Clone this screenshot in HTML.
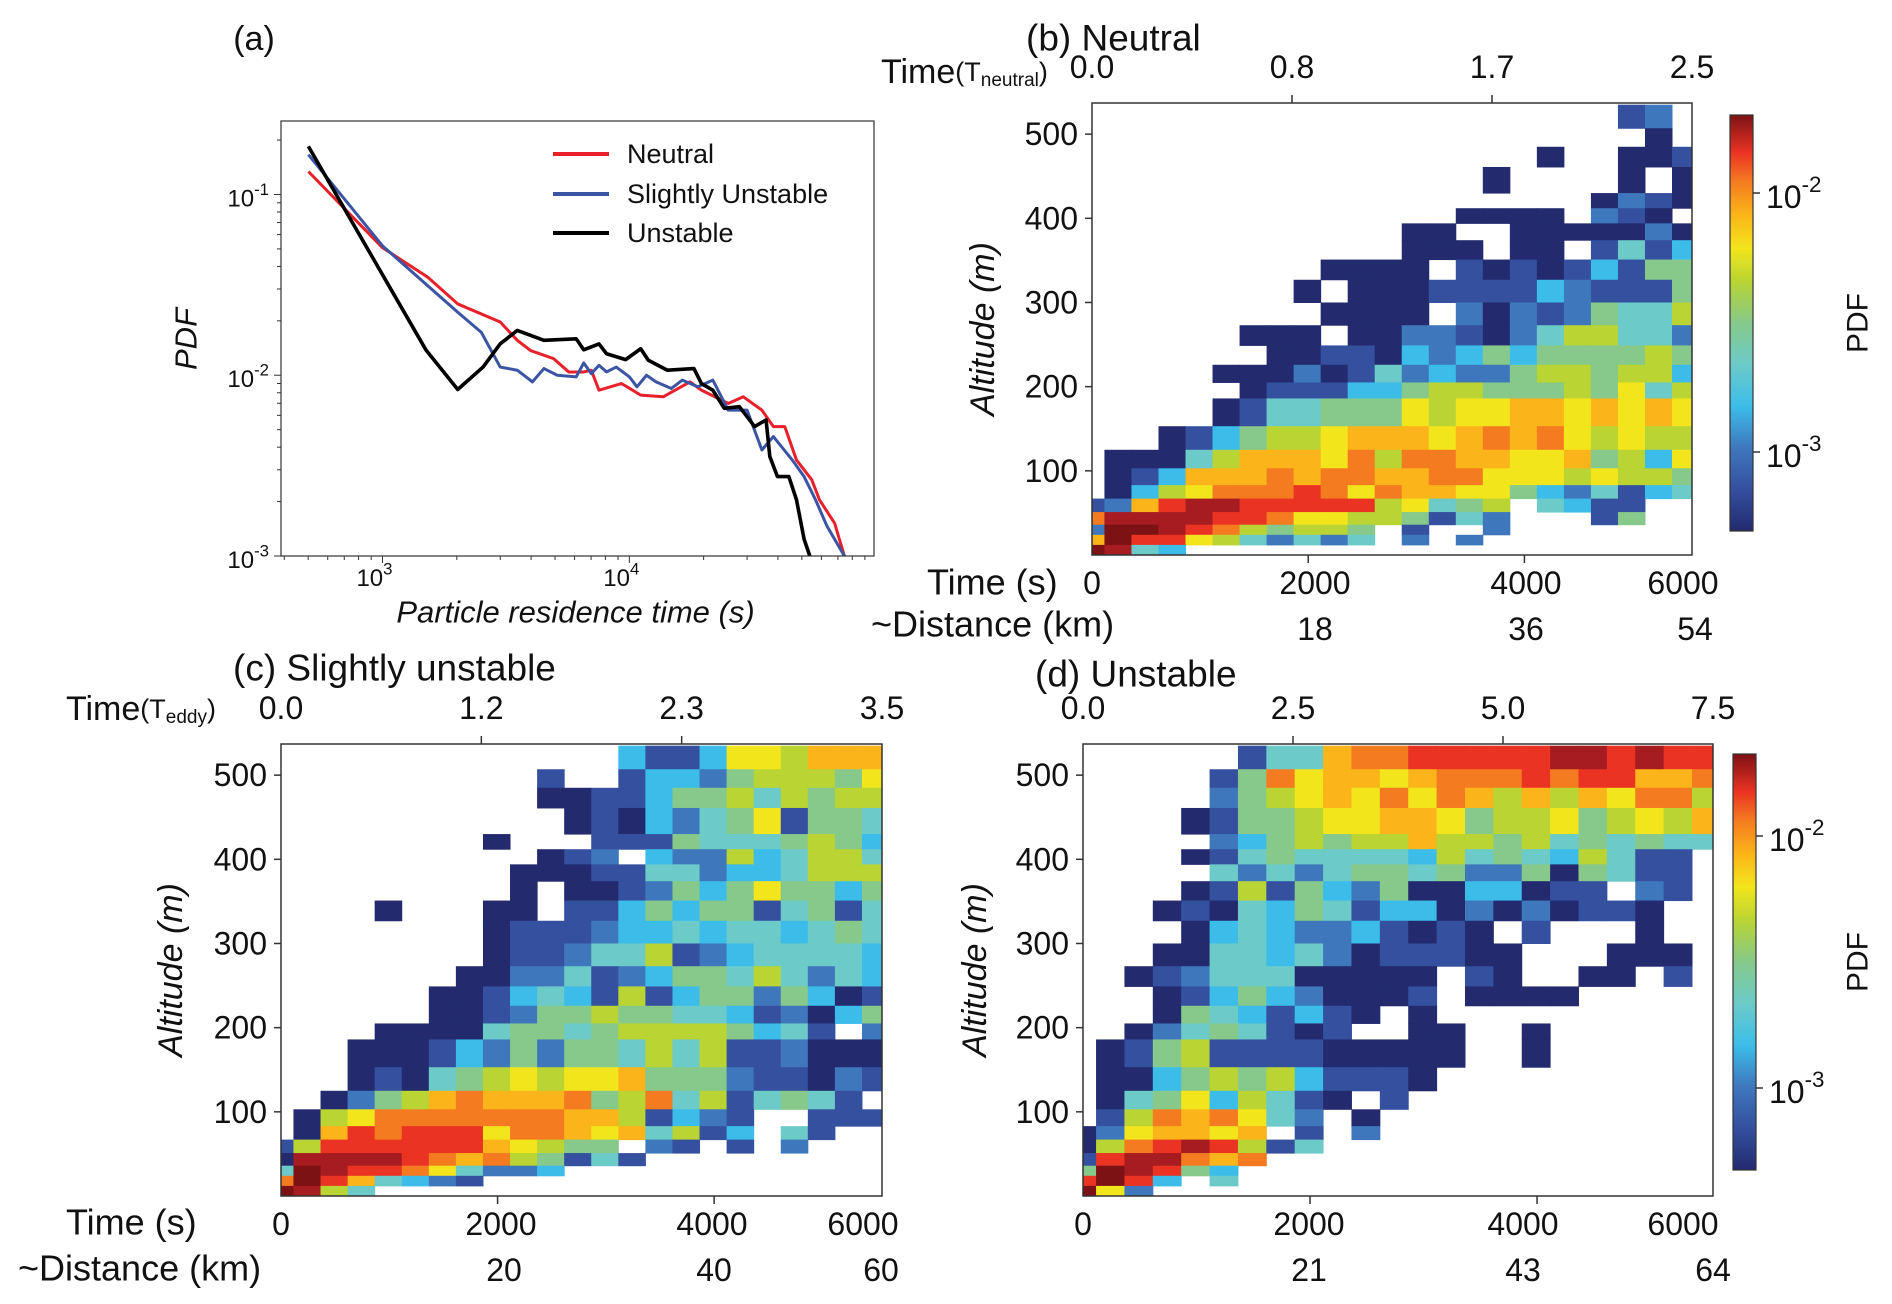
<!DOCTYPE html>
<html><head><meta charset="utf-8"><style>
html,body{margin:0;padding:0;background:#fff;}
svg{display:block;font-family:"Liberation Sans",sans-serif;}
</style></head><body>
<svg id="fig" width="1892" height="1304" viewBox="0 0 1892 1304" xmlns="http://www.w3.org/2000/svg">
<defs>
<linearGradient id="jet" x1="0" y1="1" x2="0" y2="0">
<stop offset="0" stop-color="#232a6e"/><stop offset="0.1" stop-color="#34509f"/><stop offset="0.2" stop-color="#3f77bd"/>
<stop offset="0.3" stop-color="#3cbde9"/><stop offset="0.4" stop-color="#6ccac8"/><stop offset="0.5" stop-color="#86c98a"/>
<stop offset="0.6" stop-color="#b9d433"/><stop offset="0.68" stop-color="#f2e51c"/><stop offset="0.76" stop-color="#fbb419"/>
<stop offset="0.84" stop-color="#f47b20"/><stop offset="0.91" stop-color="#ea3323"/><stop offset="1" stop-color="#7c1214"/>
</linearGradient>
</defs>
<g id="root"></g>
</svg>
<script>
// ---------- Panel (a) data ----------
const neutralX=[501,1000,1529,2018,2999,3516,3981,4932,5681,6535,7011,7535,9292,11120,13720,17620,19590,25160,28950,34440,38320,42640,47540,54850,58880,67860,74350];
const neutralY=[0.134,0.0508,0.0348,0.0248,0.0197,0.0156,0.0137,0.01236,0.01043,0.01043,0.01066,0.00827,0.009,0.00776,0.0076,0.00919,0.00827,0.00698,0.0076,0.00641,0.0052,0.0052,0.0034,0.00264,0.00205,0.00152,0.001];
const slightX=[501,1000,2018,2512,2999,3516,4050,4508,5108,6095,6535,7011,7535,8086,8850,10000,10740,11740,12830,14800,16400,18930,21790,25160,30000,34440,38320,45700,51050,56760,63250,74350];
const slightY=[0.166,0.052,0.0223,0.0173,0.0111,0.01066,0.00919,0.01089,0.01,0.0098,0.0117,0.0102,0.01135,0.01043,0.0111,0.0098,0.00863,0.01,0.00919,0.00845,0.0094,0.00863,0.0094,0.00641,0.00641,0.00386,0.00458,0.0034,0.00275,0.00205,0.00146,0.001];
const unstableX=[501,1503,2018,2558,2999,3516,4508,6095,6535,7535,8086,9661,11120,11940,14260,18270,19590,21790,24240,27930,32180,35810,37080,39810,44280,47540,51050,53850];
const unstableY=[0.1845,0.01374,0.00834,0.01112,0.01493,0.0177,0.0156,0.0159,0.01383,0.0149,0.01315,0.0122,0.01402,0.0121,0.01066,0.01089,0.009,0.00827,0.00656,0.0067,0.0052,0.00566,0.00355,0.00275,0.00275,0.00205,0.00124,0.001];
const aXTicks=[1000,10000];
const aXTickLabels=["3","4"];
const aYTicks=[0.1,0.01,0.001];
const aYTickLabels=["-1","-2","-3"];

// ---------- Heatmap data (rows top -> bottom, 23 columns, '.' = empty) ----------
const altEdges=[0,12,24,36,51,67,83,103,125,153,186,205,226,249,273,300,327,351,374,394,412,430,461,485,507,535];
const neutralGrid=[
"....................12.",
".....................0.",
".................0..001",
"...............0....0.0",
"...................0210",
"..............0000.210.",
"............00..0000020",
"............000.00.1413",
".........0000.101013155",
"........0.0001111321115",
".........0000.202125446",
"......000.0022102466442",
".......0011032353555565",
".....000201423225665663",
"......01113356655565746",
".....014455576778878787",
"...01356678887898976766",
".0004688879699887785637",
".0138889899889977767665",
".0367999A97988775324134",
"128ABBAAAAA67456.4311..",
"9BBBBAA977665142...15..",
"2CCBA965665.1..2.......",
"8CAA7642424.2.2........",
"CB43..................."];
const slightGrid=[
".............3113776888",
"..........1..1332566657",
"..........0011355646566",
"...........010324571554",
"........0...11154445653",
"..........012.322634664",
".........00011442334666",
".........0.001253575535",
"....0...00.113535514514",
"........011123343443454",
"........011244612344443",
".......0022412355464243",
"......00134316135525301",
"......00125565544312035",
"....00004554566665341.2",
"...00013252554646112000",
"...01045676778555211021",
"..02568988895694614541.",
".06799999998861321..111",
".08A9AAA7998784613.41..",
"16AAAAAA87655.21.1.2...",
"0BBBBA98965141.........",
"4CBAA974223............",
"9CA84321...............",
"CB64..................."];
const unstableGrid=[
"......144899AAAAABBABAA",
".....15978878999A9AA889",
".....256787979868687996",
"....0155677887566756768",
".....235656686656454544",
"....014544443645436411.",
".....42424554522505411.",
"....016153250033011.21.",
"...010435413302020110..",
"....03432231010.1...0..",
"...0044342011100...000.",
"..01244400000.10..00.1.",
"...0135320001.0000.....",
"...05431310.0..........",
"..02454101..00..0......",
".0156111100000..0......",
".003565631110..........",
".045736410.1...........",
".16989742.0............",
"0278878.1.2............",
"069ABA614..............",
"1ABB989................",
"5CBA53.................",
"ACA3.4.................",
"C72...................."];

const NS="http://www.w3.org/2000/svg";
const root=document.getElementById('root');
const pal={'0':'#232a6e','1':'#34509f','2':'#3f77bd','3':'#3cbde9','4':'#6ccac8','5':'#86c98a','6':'#b9d433','7':'#f2e51c','8':'#fbb419','9':'#f47b20','A':'#ea3323','B':'#a71c20','C':'#7c1214'};
function mk(tag,attrs,parent){const e=document.createElementNS(NS,tag);for(const k in attrs)e.setAttribute(k,attrs[k]);(parent||root).appendChild(e);return e;}
function txt(s,x,y,size,anchor,parent,extra){const e=mk('text',Object.assign({x:x,y:y,'font-size':size,'text-anchor':anchor||'middle','dominant-baseline':'central',fill:'#111'},extra||{}),parent);e.textContent=s;return e;}
function sup(base,exp,x,y,size,anchor,parent){const e=mk('text',{x:x,y:y,'font-size':size,'text-anchor':anchor,'dominant-baseline':'central',fill:'#111'},parent);
 const t1=document.createElementNS(NS,'tspan');t1.textContent=base;e.appendChild(t1);
 const t2=document.createElementNS(NS,'tspan');t2.setAttribute('dy',-size*0.4);t2.setAttribute('font-size',size*0.7);t2.textContent=exp;e.appendChild(t2);return e;}

// ---------- Panel (a) ----------
(function(){
 const g=mk('g',{});
 
 
 const L=281,R=874,T=121,B=556;
 const lx0=Math.log10(388),lx1=Math.log10(98000),ly0=-3,ly1=Math.log10(0.255);
 const xs=v=>L+(Math.log10(v)-lx0)/(lx1-lx0)*(R-L);
 const ys=v=>B-(Math.log10(v)-ly0)/(ly1-ly0)*(B-T);
 const clip=mk('clipPath',{id:'clipA'},g);mk('rect',{x:L,y:T,width:R-L,height:B-T},clip);
 function line(X,Y,color,name,w){const p=mk('polyline',{points:X.map((x,i)=>xs(x)+','+ys(Y[i])).join(' '),fill:'none',stroke:color,'stroke-width':w,'stroke-linejoin':'round','clip-path':'url(#clipA)'},g);
  
  }
 line(neutralX,neutralY,'#e8202a','neutral-line',3);
 line(slightX,slightY,'#3b54a4','slightly-unstable-line',3);
 line(unstableX,unstableY,'#000','unstable-line',3.6);
 mk('rect',{x:L,y:T,width:R-L,height:B-T,fill:'none',stroke:'#333','stroke-width':1.2},g);
 for(let d=2;d<=4;d++)for(let m=1;m<10;m++){const v=m*Math.pow(10,d);if(v<388||v>98000)continue;const x=xs(v);mk('line',{x1:x,y1:B,x2:x,y2:B+(m==1?7:4),stroke:'#333'},g);}
 for(let d=-3;d<=-1;d++)for(let m=1;m<10;m++){const v=m*Math.pow(10,d);if(v>0.255)continue;const y=ys(v);mk('line',{x1:L,y1:y,x2:L-(m==1?7:4),y2:y,stroke:'#333'},g);}
 aXTicks.forEach((v,i)=>{const t=sup('10',aXTickLabels[i],xs(v)-8,B+22,24,'middle',g);});
 aYTicks.forEach((v,i)=>{const t=sup('10',aYTickLabels[i],L-12,ys(v)+4,24,'end',g);});
 const xl=txt('Particle residence time (s)',(L+R)/2-2,612,31,'middle',g,{'font-style':'italic'});
 
 const yl=txt('PDF',0,0,31,'middle',g,{'font-style':'italic',transform:'translate(186,339) rotate(-90)'});
 
 const lt=txt('(a)',254,39,34,'middle',g);
 const leg=[['Neutral','#e8202a',154],['Slightly Unstable','#3b54a4',194],['Unstable','#000',233]];
 leg.forEach(l=>{const lg=mk('g',{},g);
  mk('line',{x1:553,x2:609,y1:l[2],y2:l[2],stroke:l[1],'stroke-width':4},lg);txt(l[0],627,l[2],27,'start',lg);});
})();

// ---------- Heatmap panels ----------
function heat(opt){
 const g=mk('g',{});
 
 
 const L=opt.L,R=opt.R,T=744,B=1196;
 const xmax=5550,amax=537;
 const xs=v=>L+v/xmax*(R-L);
 const ys=v=>B-v/amax*(B-T);
 const nRows=opt.grid.length;
 opt.grid.forEach((row,ri)=>{const r=nRows-1-ri;
  for(let c=0;c<row.length&&c<23;c++){const ch=row[c];if(!pal[ch])continue;
   const x0=Math.max(0,-135+250*c),x1=Math.min(xmax,-135+250*(c+1));
   const rc=mk('rect',{x:xs(x0),y:ys(altEdges[r+1]),width:xs(x1)-xs(x0)+0.5,height:ys(altEdges[r])-ys(altEdges[r+1])+0.5,fill:pal[ch]},g);
   
   }
 });
 mk('rect',{x:L,y:T,width:R-L,height:B-T,fill:'none',stroke:'#333','stroke-width':1.5},g);
 [100,200,300,400,500].forEach(a=>{const y=ys(a);mk('line',{x1:L,x2:L-7,y1:y,y2:y,stroke:'#333','stroke-width':1.5},g);
  const t=txt(String(a),L-14,y,32,'end',g);});
 [2000,4000].forEach(v=>mk('line',{x1:xs(v),x2:xs(v),y1:B,y2:B+8,stroke:'#333','stroke-width':1.5},g));
 [1/3,2/3].forEach(f=>{const x=L+f*(R-L);mk('line',{x1:x,x2:x,y1:T,y2:T-8,stroke:'#333','stroke-width':1.5},g);});
 opt.top.forEach((s,i)=>{const t=txt(s,L+i/3*(R-L),T-36,32,'middle',g);});
 opt.bot.forEach(b=>{const t=txt(b[0],b[1],B+28,32,'middle',g);});
 opt.dist.forEach(b=>{const t=txt(b[0],b[1],B+74,32,'middle',g);});
 const yl=txt('Altitude (m)',0,0,34,'middle',g,{'font-style':'italic',transform:'translate('+opt.ylx+','+(T+B)/2+') rotate(-90)'});
 
 return g;
}
let gb=heat({name:'panel-b-neutral-heatmap',grid:neutralGrid,L:1092,R:1692,top:['0.0','0.8','1.7','2.5'],
 bot:[['0',1092],['2000',1315],['4000',1526],['6000',1683]],dist:[['18',1315],['36',1526],['54',1695]],ylx:983});
gb.setAttribute('transform','translate(0,'+(103-744)+')');
heat({name:'panel-c-slightly-unstable-heatmap',grid:slightGrid,L:281,R:882,top:['0.0','1.2','2.3','3.5'],
 bot:[['0',281],['2000',501],['4000',712],['6000',863]],dist:[['20',504],['40',714],['60',881]],ylx:171});
heat({name:'panel-d-unstable-heatmap',grid:unstableGrid,L:1083,R:1713,top:['0.0','2.5','5.0','7.5'],
 bot:[['0',1083],['2000',1309],['4000',1523],['6000',1683]],dist:[['21',1309],['43',1523],['64',1713]],ylx:975});

// ---------- Titles & axis labels ----------
function label(s,x,y,size,name,anchor){const t=txt(s,x,y,size,anchor||'start');return t;}
label('(b) Neutral',1026,38,37,'panel-b-title');
label('(c) Slightly unstable',233,668,37,'panel-c-title');
label('(d) Unstable',1035,674,37,'panel-d-title');
(function(){const t=mk('text',{x:881,y:72,'font-size':34,'dominant-baseline':'central',fill:'#111'});
 t.innerHTML='Time<tspan font-size="27">(T</tspan><tspan font-size="19" dy="8">neutral</tspan><tspan font-size="27" dy="-8">)</tspan>';})();
(function(){const t=mk('text',{x:66,y:709,'font-size':34,'dominant-baseline':'central',fill:'#111'});
 t.innerHTML='Time<tspan font-size="27">(T</tspan><tspan font-size="19" dy="8">eddy</tspan><tspan font-size="27" dy="-8">)</tspan>';})();
label('Time (s)',927,582,36,'x-axis-title-b');
label('~Distance (km)',871,624,36,'distance-axis-title-b');
label('Time (s)',66,1222,36,'x-axis-title-c');
label('~Distance (km)',18,1268,36,'distance-axis-title-c');

// ---------- Colorbars ----------
function cbar(x,y0,y1,t2,t3,name){const g=mk('g',{});
 mk('rect',{x:x,y:y0,width:23,height:y1-y0,fill:'url(#jet)',stroke:'#333','stroke-width':1.2},g);
 [[t2,'-2'],[t3,'-3']].forEach(t=>{mk('line',{x1:x+23,x2:x+30,y1:t[0],y2:t[0],stroke:'#333','stroke-width':1.5},g);
  const s=sup('10',t[1],x+36,t[0]+4,32,'start',g);});
 const l=txt('PDF',0,0,30,'middle',g,{transform:'translate(1858,'+(y0+y1)/2+') rotate(-90)'});}
cbar(1730,115,531,193,452,'colorbar-b');
cbar(1733,754,1170,836,1088,'colorbar-d');
</script>
</body></html>
